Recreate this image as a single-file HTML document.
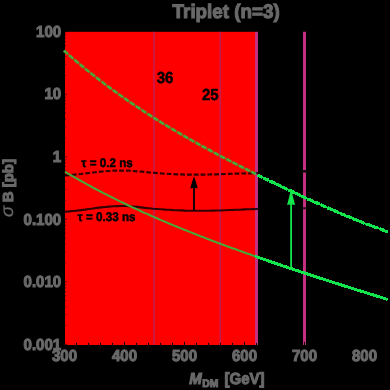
<!DOCTYPE html>
<html><head><meta charset="utf-8"><style>
html,body{margin:0;padding:0;background:#000;}
body{width:390px;height:390px;overflow:hidden;}
svg{display:block;}
text{font-family:"Liberation Sans",sans-serif;font-weight:bold;text-rendering:geometricPrecision;}
.g text{stroke:#6a6a6a;stroke-width:1.1px;}
.k text{stroke:#000;stroke-width:0.5px;}
</style></head><body>
<svg width="390" height="390" viewBox="0 0 390 390">
<rect width="390" height="390" fill="#000"/>
<rect x="65" y="31.8" width="190.2" height="313.2" fill="#fe0000"/>
<line x1="154.1" y1="31.8" x2="154.1" y2="345" stroke="#c01f5a" stroke-width="1.4"/>
<line x1="220.2" y1="31.8" x2="220.2" y2="345" stroke="#c01f5a" stroke-width="1.4"/>
<line x1="256.5" y1="31.8" x2="256.5" y2="345" stroke="#c42f80" stroke-width="3"/>
<line x1="304.5" y1="31.8" x2="304.5" y2="345" stroke="#c42f80" stroke-width="3"/>
<g stroke="#000" stroke-width="1"><line x1="64.5" y1="345" x2="64.5" y2="341.9"/><line x1="76.5" y1="345" x2="76.5" y2="342.9"/><line x1="88.5" y1="345" x2="88.5" y2="342.9"/><line x1="100.5" y1="345" x2="100.5" y2="342.9"/><line x1="112.5" y1="345" x2="112.5" y2="342.9"/><line x1="124.5" y1="345" x2="124.5" y2="341.9"/><line x1="136.5" y1="345" x2="136.5" y2="342.9"/><line x1="148.5" y1="345" x2="148.5" y2="342.9"/><line x1="160.5" y1="345" x2="160.5" y2="342.9"/><line x1="172.5" y1="345" x2="172.5" y2="342.9"/><line x1="184.5" y1="345" x2="184.5" y2="341.9"/><line x1="196.5" y1="345" x2="196.5" y2="342.9"/><line x1="208.5" y1="345" x2="208.5" y2="342.9"/><line x1="220.5" y1="345" x2="220.5" y2="342.9"/><line x1="232.5" y1="345" x2="232.5" y2="342.9"/><line x1="244.5" y1="345" x2="244.5" y2="341.9"/><line x1="256.5" y1="345" x2="256.5" y2="342.9"/><line x1="268.5" y1="345" x2="268.5" y2="342.9"/><line x1="280.5" y1="345" x2="280.5" y2="342.9"/><line x1="292.5" y1="345" x2="292.5" y2="342.9"/><line x1="304.5" y1="345" x2="304.5" y2="341.9"/><line x1="316.5" y1="345" x2="316.5" y2="342.9"/><line x1="328.5" y1="345" x2="328.5" y2="342.9"/><line x1="340.5" y1="345" x2="340.5" y2="342.9"/><line x1="352.5" y1="345" x2="352.5" y2="342.9"/><line x1="364.5" y1="345" x2="364.5" y2="341.9"/><line x1="376.5" y1="345" x2="376.5" y2="342.9"/><line x1="388.5" y1="345" x2="388.5" y2="342.9"/><line x1="65" y1="94.3" x2="67.2" y2="94.3" stroke-opacity="0.6"/><line x1="65" y1="75.5" x2="66.1" y2="75.5" stroke-opacity="0.6"/><line x1="65" y1="64.5" x2="66.1" y2="64.5" stroke-opacity="0.6"/><line x1="65" y1="56.7" x2="66.1" y2="56.7" stroke-opacity="0.6"/><line x1="65" y1="50.6" x2="66.1" y2="50.6" stroke-opacity="0.6"/><line x1="65" y1="45.7" x2="66.1" y2="45.7" stroke-opacity="0.6"/><line x1="65" y1="41.5" x2="66.1" y2="41.5" stroke-opacity="0.6"/><line x1="65" y1="37.9" x2="66.1" y2="37.9" stroke-opacity="0.6"/><line x1="65" y1="34.7" x2="66.1" y2="34.7" stroke-opacity="0.6"/><line x1="65" y1="156.8" x2="67.2" y2="156.8" stroke-opacity="0.6"/><line x1="65" y1="138.0" x2="66.1" y2="138.0" stroke-opacity="0.6"/><line x1="65" y1="127.0" x2="66.1" y2="127.0" stroke-opacity="0.6"/><line x1="65" y1="119.2" x2="66.1" y2="119.2" stroke-opacity="0.6"/><line x1="65" y1="113.1" x2="66.1" y2="113.1" stroke-opacity="0.6"/><line x1="65" y1="108.2" x2="66.1" y2="108.2" stroke-opacity="0.6"/><line x1="65" y1="104.0" x2="66.1" y2="104.0" stroke-opacity="0.6"/><line x1="65" y1="100.4" x2="66.1" y2="100.4" stroke-opacity="0.6"/><line x1="65" y1="97.2" x2="66.1" y2="97.2" stroke-opacity="0.6"/><line x1="65" y1="219.3" x2="67.2" y2="219.3" stroke-opacity="0.6"/><line x1="65" y1="200.5" x2="66.1" y2="200.5" stroke-opacity="0.6"/><line x1="65" y1="189.5" x2="66.1" y2="189.5" stroke-opacity="0.6"/><line x1="65" y1="181.7" x2="66.1" y2="181.7" stroke-opacity="0.6"/><line x1="65" y1="175.6" x2="66.1" y2="175.6" stroke-opacity="0.6"/><line x1="65" y1="170.7" x2="66.1" y2="170.7" stroke-opacity="0.6"/><line x1="65" y1="166.5" x2="66.1" y2="166.5" stroke-opacity="0.6"/><line x1="65" y1="162.9" x2="66.1" y2="162.9" stroke-opacity="0.6"/><line x1="65" y1="159.7" x2="66.1" y2="159.7" stroke-opacity="0.6"/><line x1="65" y1="281.8" x2="67.2" y2="281.8" stroke-opacity="0.6"/><line x1="65" y1="263.0" x2="66.1" y2="263.0" stroke-opacity="0.6"/><line x1="65" y1="252.0" x2="66.1" y2="252.0" stroke-opacity="0.6"/><line x1="65" y1="244.2" x2="66.1" y2="244.2" stroke-opacity="0.6"/><line x1="65" y1="238.1" x2="66.1" y2="238.1" stroke-opacity="0.6"/><line x1="65" y1="233.2" x2="66.1" y2="233.2" stroke-opacity="0.6"/><line x1="65" y1="229.0" x2="66.1" y2="229.0" stroke-opacity="0.6"/><line x1="65" y1="225.4" x2="66.1" y2="225.4" stroke-opacity="0.6"/><line x1="65" y1="222.2" x2="66.1" y2="222.2" stroke-opacity="0.6"/><line x1="65" y1="344.3" x2="67.2" y2="344.3" stroke-opacity="0.6"/><line x1="65" y1="325.5" x2="66.1" y2="325.5" stroke-opacity="0.6"/><line x1="65" y1="314.5" x2="66.1" y2="314.5" stroke-opacity="0.6"/><line x1="65" y1="306.7" x2="66.1" y2="306.7" stroke-opacity="0.6"/><line x1="65" y1="300.6" x2="66.1" y2="300.6" stroke-opacity="0.6"/><line x1="65" y1="295.7" x2="66.1" y2="295.7" stroke-opacity="0.6"/><line x1="65" y1="291.5" x2="66.1" y2="291.5" stroke-opacity="0.6"/><line x1="65" y1="287.9" x2="66.1" y2="287.9" stroke-opacity="0.6"/><line x1="65" y1="284.7" x2="66.1" y2="284.7" stroke-opacity="0.6"/><line x1="65" y1="31.8" x2="67.2" y2="31.8" stroke-opacity="0.6"/></g>
<path d="M65.0,175.4 L69.0,175.1 L73.0,174.8 L77.0,174.4 L81.0,174.0 L85.0,173.5 L89.0,173.0 L93.0,172.5 L97.0,172.1 L101.0,171.7 L105.0,171.3 L109.0,171.0 L113.0,170.7 L117.0,170.6 L121.0,170.5 L125.0,170.6 L129.0,170.7 L133.0,171.0 L137.0,171.3 L141.0,171.6 L145.0,172.0 L149.0,172.4 L153.0,172.7 L157.0,173.1 L161.0,173.4 L165.0,173.6 L169.0,173.9 L173.0,174.1 L177.0,174.3 L181.0,174.4 L185.0,174.6 L189.0,174.6 L193.0,174.7 L197.0,174.7 L201.0,174.7 L205.0,174.6 L209.0,174.5 L213.0,174.4 L217.0,174.3 L221.0,174.2 L225.0,174.0 L229.0,173.9 L233.0,173.8 L237.0,173.6 L241.0,173.5 L245.0,173.4 L249.0,173.3 L253.0,173.3 L257.0,173.2 L261.0,173.1 L265.0,173.0 L269.0,172.8 L273.0,172.7 L277.0,172.5 L281.0,172.4 L285.0,172.2 L289.0,172.0 L293.0,171.8 L297.0,171.6 L301.0,171.4 L305.0,171.3 L308.0,171.1" fill="none" stroke="#000" stroke-opacity="0.8" stroke-width="2.2" stroke-dasharray="4.8 2"/>
<path d="M65.0,211.6 L69.0,211.4 L73.0,211.0 L77.0,210.6 L81.0,210.1 L85.0,209.6 L89.0,209.0 L93.0,208.5 L97.0,207.9 L101.0,207.4 L105.0,207.0 L109.0,206.6 L113.0,206.3 L117.0,206.1 L121.0,206.0 L125.0,206.0 L129.0,206.2 L133.0,206.5 L137.0,206.9 L141.0,207.4 L145.0,207.9 L149.0,208.3 L153.0,208.7 L157.0,209.0 L161.0,209.3 L165.0,209.6 L169.0,209.8 L173.0,210.1 L177.0,210.3 L181.0,210.4 L185.0,210.6 L189.0,210.7 L193.0,210.8 L197.0,210.8 L201.0,210.8 L205.0,210.8 L209.0,210.7 L213.0,210.6 L217.0,210.5 L221.0,210.4 L225.0,210.2 L229.0,210.0 L233.0,209.9 L237.0,209.7 L241.0,209.6 L245.0,209.4 L249.0,209.2 L253.0,209.1 L257.0,209.0 L261.0,208.9 L265.0,208.8 L269.0,208.7 L273.0,208.6 L277.0,208.5 L281.0,208.5 L285.0,208.4 L289.0,208.4 L293.0,208.3 L297.0,208.3 L301.0,208.3 L305.0,208.3 L308.0,208.3" fill="none" stroke="#000" stroke-opacity="0.8" stroke-width="2.1"/>
<line x1="302.6" y1="171.3" x2="306.4" y2="171.2" stroke="#000" stroke-width="2"/>
<path d="M65.0,171.7 L67.0,172.9 L69.0,174.1 L71.0,175.3 L73.0,176.4 L75.0,177.6 L77.0,178.7 L79.0,179.9 L81.0,181.0 L83.0,182.1 L85.0,183.2 L87.0,184.4 L89.0,185.4 L91.0,186.5 L93.0,187.6 L95.0,188.7 L97.0,189.7 L99.0,190.8 L101.0,191.8 L103.0,192.9 L105.0,193.9 L107.0,194.9 L109.0,195.9 L111.0,196.9 L113.0,197.9 L115.0,198.9 L117.0,199.9 L119.0,200.9 L121.0,201.9 L123.0,202.8 L125.0,203.8 L127.0,204.7 L129.0,205.7 L131.0,206.6 L133.0,207.6 L135.0,208.5 L137.0,209.4 L139.0,210.3 L141.0,211.2 L143.0,212.2 L145.0,213.1 L147.0,213.9 L149.0,214.8 L151.0,215.7 L153.0,216.6 L155.0,217.5 L157.0,218.3 L159.0,219.2 L161.0,220.1 L163.0,220.9 L165.0,221.8 L167.0,222.6 L169.0,223.5 L171.0,224.3 L173.0,225.1 L175.0,226.0 L177.0,226.8 L179.0,227.6 L181.0,228.4 L183.0,229.2 L185.0,230.0 L187.0,230.8 L189.0,231.6 L191.0,232.4 L193.0,233.2 L195.0,234.0 L197.0,234.8 L199.0,235.6 L201.0,236.4 L203.0,237.1 L205.0,237.9 L207.0,238.7 L209.0,239.4 L211.0,240.2 L213.0,241.0 L215.0,241.7 L217.0,242.5 L219.0,243.2 L221.0,244.0 L223.0,244.7 L225.0,245.4 L227.0,246.2 L229.0,246.9 L231.0,247.7 L233.0,248.4 L235.0,249.1 L237.0,249.8 L239.0,250.6 L241.0,251.3 L243.0,252.0 L245.0,252.7 L247.0,253.4 L249.0,254.1 L251.0,254.8 L253.0,255.6 L255.0,256.3 L256.0,256.6" fill="none" stroke="#48a83c" stroke-width="2.1"/>
<path d="M255.2,256.3 L257.2,257.0 L259.2,257.7 L261.2,258.4 L263.2,259.1 L265.2,259.8 L267.2,260.5 L269.2,261.2 L271.2,261.9 L273.2,262.6 L275.2,263.2 L277.2,263.9 L279.2,264.6 L281.2,265.3 L283.2,266.0 L285.2,266.6 L287.2,267.3 L289.2,268.0 L291.2,268.6 L293.2,269.3 L295.2,270.0 L297.2,270.6 L299.2,271.3 L301.2,272.0 L303.2,272.6 L305.2,273.3 L307.2,273.9 L309.2,274.6 L311.2,275.3 L313.2,275.9 L315.2,276.6 L317.2,277.2 L319.2,277.9 L321.2,278.5 L323.2,279.1 L325.2,279.8 L327.2,280.4 L329.2,281.1 L331.2,281.7 L333.2,282.4 L335.2,283.0 L337.2,283.6 L339.2,284.3 L341.2,284.9 L343.2,285.5 L345.2,286.2 L347.2,286.8 L349.2,287.4 L351.2,288.1 L353.2,288.7 L355.2,289.3 L357.2,290.0 L359.2,290.6 L361.2,291.2 L363.2,291.8 L365.2,292.5 L367.2,293.1 L369.2,293.7 L371.2,294.3 L373.2,294.9 L375.2,295.6 L377.2,296.2 L379.2,296.8 L381.2,297.4 L383.2,298.0 L385.2,298.7 L387.2,299.3 L387.7,299.4" fill="none" stroke="#12e64c" stroke-width="3" shape-rendering="crispEdges"/>
<path d="M63.8,50.6 L65.8,52.3 L67.8,54.1 L69.8,55.8 L71.8,57.5 L73.8,59.2 L75.8,60.9 L77.8,62.6 L79.8,64.2 L81.8,65.9 L83.8,67.5 L85.8,69.2 L87.8,70.8 L89.8,72.4 L91.8,74.0 L93.8,75.5 L95.8,77.1 L97.8,78.7 L99.8,80.2 L101.8,81.7 L103.8,83.3 L105.8,84.8 L107.8,86.3 L109.8,87.7 L111.8,89.2 L113.8,90.7 L115.8,92.1 L117.8,93.6 L119.8,95.0 L121.8,96.4 L123.8,97.8 L125.8,99.2 L127.8,100.6 L129.8,102.0 L131.8,103.4 L133.8,104.7 L135.8,106.1 L137.8,107.4 L139.8,108.7 L141.8,110.0 L143.8,111.4 L145.8,112.7 L147.8,114.0 L149.8,115.2 L151.8,116.5 L153.8,117.8 L155.8,119.0 L157.8,120.3 L159.8,121.5 L161.8,122.8 L163.8,124.0 L165.8,125.2 L167.8,126.4 L169.8,127.6 L171.8,128.8 L173.8,130.0 L175.8,131.2 L177.8,132.4 L179.8,133.5 L181.8,134.7 L183.8,135.8 L185.8,137.0 L187.8,138.1 L189.8,139.3 L191.8,140.4 L193.8,141.5 L195.8,142.6 L197.8,143.7 L199.8,144.8 L201.8,146.0 L203.8,147.0 L205.8,148.1 L207.8,149.2 L209.8,150.3 L211.8,151.4 L213.8,152.5 L215.8,153.5 L217.8,154.6 L219.8,155.6 L221.8,156.7 L223.8,157.7 L225.8,158.8 L227.8,159.8 L229.8,160.9 L231.8,161.9 L233.8,162.9 L235.8,164.0 L237.8,165.0 L239.8,166.0 L241.8,167.0 L243.8,168.0 L245.8,169.0 L247.8,170.0 L249.8,171.0 L251.8,172.0 L253.8,173.0 L255.8,174.0 L256.0,174.1" fill="none" stroke="#48a83c" stroke-width="2.2" stroke-opacity="0.35"/>
<path d="M63.8,50.6 L65.8,52.3 L67.8,54.1 L69.8,55.8 L71.8,57.5 L73.8,59.2 L75.8,60.9 L77.8,62.6 L79.8,64.2 L81.8,65.9 L83.8,67.5 L85.8,69.2 L87.8,70.8 L89.8,72.4 L91.8,74.0 L93.8,75.5 L95.8,77.1 L97.8,78.7 L99.8,80.2 L101.8,81.7 L103.8,83.3 L105.8,84.8 L107.8,86.3 L109.8,87.7 L111.8,89.2 L113.8,90.7 L115.8,92.1 L117.8,93.6 L119.8,95.0 L121.8,96.4 L123.8,97.8 L125.8,99.2 L127.8,100.6 L129.8,102.0 L131.8,103.4 L133.8,104.7 L135.8,106.1 L137.8,107.4 L139.8,108.7 L141.8,110.0 L143.8,111.4 L145.8,112.7 L147.8,114.0 L149.8,115.2 L151.8,116.5 L153.8,117.8 L155.8,119.0 L157.8,120.3 L159.8,121.5 L161.8,122.8 L163.8,124.0 L165.8,125.2 L167.8,126.4 L169.8,127.6 L171.8,128.8 L173.8,130.0 L175.8,131.2 L177.8,132.4 L179.8,133.5 L181.8,134.7 L183.8,135.8 L185.8,137.0 L187.8,138.1 L189.8,139.3 L191.8,140.4 L193.8,141.5 L195.8,142.6 L197.8,143.7 L199.8,144.8 L201.8,146.0 L203.8,147.0 L205.8,148.1 L207.8,149.2 L209.8,150.3 L211.8,151.4 L213.8,152.5 L215.8,153.5 L217.8,154.6 L219.8,155.6 L221.8,156.7 L223.8,157.7 L225.8,158.8 L227.8,159.8 L229.8,160.9 L231.8,161.9 L233.8,162.9 L235.8,164.0 L237.8,165.0 L239.8,166.0 L241.8,167.0 L243.8,168.0 L245.8,169.0 L247.8,170.0 L249.8,171.0 L251.8,172.0 L253.8,173.0 L255.8,174.0 L256.0,174.1" fill="none" stroke="#48a83c" stroke-width="2.7" stroke-dasharray="5.4 1.6"/>
<path d="M257.6,174.9 L259.6,175.9 L261.6,176.9 L263.6,177.9 L265.6,178.9 L267.6,179.8 L269.6,180.8 L271.6,181.8 L273.6,182.7 L275.6,183.7 L277.6,184.7 L279.6,185.6 L281.6,186.6 L283.6,187.5 L285.6,188.5 L287.6,189.4 L289.6,190.4 L291.6,191.3 L293.6,192.3 L295.6,193.2 L297.6,194.2 L299.6,195.1 L301.6,196.0 L303.6,196.9 L305.6,197.9 L307.6,198.8 L309.6,199.7 L311.6,200.6 L313.6,201.5 L315.6,202.4 L317.6,203.3 L319.6,204.2 L321.6,205.1 L323.6,206.0 L325.6,206.9 L327.6,207.8 L329.6,208.7 L331.6,209.6 L333.6,210.4 L335.6,211.3 L337.6,212.2 L339.6,213.0 L341.6,213.9 L343.6,214.7 L345.6,215.6 L347.6,216.4 L349.6,217.2 L351.6,218.1 L353.6,218.9 L355.6,219.7 L357.6,220.5 L359.6,221.3 L361.6,222.1 L363.6,222.9 L365.6,223.6 L367.6,224.4 L369.6,225.2 L371.6,225.9 L373.6,226.7 L375.6,227.4 L377.6,228.1 L379.6,228.8 L381.6,229.5 L383.6,230.2 L385.6,230.9 L387.6,231.6 L387.7,231.6" fill="none" stroke="#12e64c" stroke-width="2" shape-rendering="crispEdges"/>
<path d="M257.6,174.9 L259.6,175.9 L261.6,176.9 L263.6,177.9 L265.6,178.9 L267.6,179.8 L269.6,180.8 L271.6,181.8 L273.6,182.7 L275.6,183.7 L277.6,184.7 L279.6,185.6 L281.6,186.6 L283.6,187.5 L285.6,188.5 L287.6,189.4 L289.6,190.4 L291.6,191.3 L293.6,192.3 L295.6,193.2 L297.6,194.2 L299.6,195.1 L301.6,196.0 L303.6,196.9 L305.6,197.9 L307.6,198.8 L309.6,199.7 L311.6,200.6 L313.6,201.5 L315.6,202.4 L317.6,203.3 L319.6,204.2 L321.6,205.1 L323.6,206.0 L325.6,206.9 L327.6,207.8 L329.6,208.7 L331.6,209.6 L333.6,210.4 L335.6,211.3 L337.6,212.2 L339.6,213.0 L341.6,213.9 L343.6,214.7 L345.6,215.6 L347.6,216.4 L349.6,217.2 L351.6,218.1 L353.6,218.9 L355.6,219.7 L357.6,220.5 L359.6,221.3 L361.6,222.1 L363.6,222.9 L365.6,223.6 L367.6,224.4 L369.6,225.2 L371.6,225.9 L373.6,226.7 L375.6,227.4 L377.6,228.1 L379.6,228.8 L381.6,229.5 L383.6,230.2 L385.6,230.9 L387.6,231.6 L387.7,231.6" fill="none" stroke="#12e64c" stroke-width="3.2" stroke-dasharray="5.6 1.4" shape-rendering="crispEdges"/>
<!-- black arrow -->
<line x1="194" y1="210.5" x2="194" y2="187" stroke="#000" stroke-width="1.8"/>
<path d="M194,176.2 Q196.2,182 197.8,188.5 L194,187.8 L190.2,188.5 Q191.8,182 194,176.2 Z" fill="#000"/>
<!-- green arrow -->
<line x1="291.1" y1="267.5" x2="291.1" y2="203" stroke="#12e64c" stroke-width="1.8"/>
<path d="M291.1,189.3 L295.1,204.9 L291.1,204.2 L287.1,204.9 Z" fill="#12e64c"/>
<g class="g" opacity="0.999"><text transform="translate(64.5,361.2) scale(0.94,1)" font-size="16" fill="#6a6a6a" text-anchor="middle" >300</text><text transform="translate(124.5,361.2) scale(0.94,1)" font-size="16" fill="#6a6a6a" text-anchor="middle" >400</text><text transform="translate(184.5,361.2) scale(0.94,1)" font-size="16" fill="#6a6a6a" text-anchor="middle" >500</text><text transform="translate(244.5,361.2) scale(0.94,1)" font-size="16" fill="#6a6a6a" text-anchor="middle" >600</text><text transform="translate(304.5,361.2) scale(0.94,1)" font-size="16" fill="#6a6a6a" text-anchor="middle" >700</text><text transform="translate(364.5,361.2) scale(0.94,1)" font-size="16" fill="#6a6a6a" text-anchor="middle" >800</text><text transform="translate(61.2,36.7) scale(0.94,1)" font-size="16" fill="#6a6a6a" text-anchor="end" >100</text><text transform="translate(61.2,99.4) scale(0.94,1)" font-size="16" fill="#6a6a6a" text-anchor="end" >10</text><text transform="translate(61.2,162.1) scale(0.94,1)" font-size="16" fill="#6a6a6a" text-anchor="end" >1</text><text transform="translate(61.2,224.7) scale(0.94,1)" font-size="16" fill="#6a6a6a" text-anchor="end" >0.100</text><text transform="translate(61.2,287.4) scale(0.94,1)" font-size="16" fill="#6a6a6a" text-anchor="end" >0.010</text><text transform="translate(61.2,350.1) scale(0.94,1)" font-size="16" fill="#6a6a6a" text-anchor="end" >0.001</text>
<text transform="translate(226.2,17.5) scale(0.965,1)" font-size="19.5" fill="#6a6a6a" text-anchor="middle">Triplet (n=3)</text>
<text transform="translate(189.3,384.3) scale(0.94,1)" font-size="16" fill="#6a6a6a" text-anchor="start" ><tspan font-style="italic">M</tspan><tspan font-size="11" dy="3.1" dx="0.5">DM</tspan><tspan dy="-3.1" dx="2"> [GeV]</tspan></text>
<text transform="translate(13.4,217) rotate(-90) scale(1,0.97)" font-size="15" fill="#6a6a6a"><tspan font-style="italic" font-weight="normal" font-size="18.5" stroke-width="0.2">σ</tspan><tspan dx="-0.6"> B [pb]</tspan></text>
</g>
<g class="k" opacity="0.999">
<text transform="translate(165.0,83.3) scale(0.94,1)" font-size="16" fill="#000" text-anchor="middle" >36</text>
<text transform="translate(210.3,99.8) scale(0.94,1)" font-size="16" fill="#000" text-anchor="middle" >25</text>
<text transform="translate(81.3,167.3) scale(0.94,1)" font-size="12.4" fill="#000" text-anchor="start" >τ = 0.2 ns</text>
<text transform="translate(77.5,220.8) scale(0.94,1)" font-size="12.4" fill="#000" text-anchor="start" >τ = 0.33 ns</text>
</g>
</svg>
</body></html>
